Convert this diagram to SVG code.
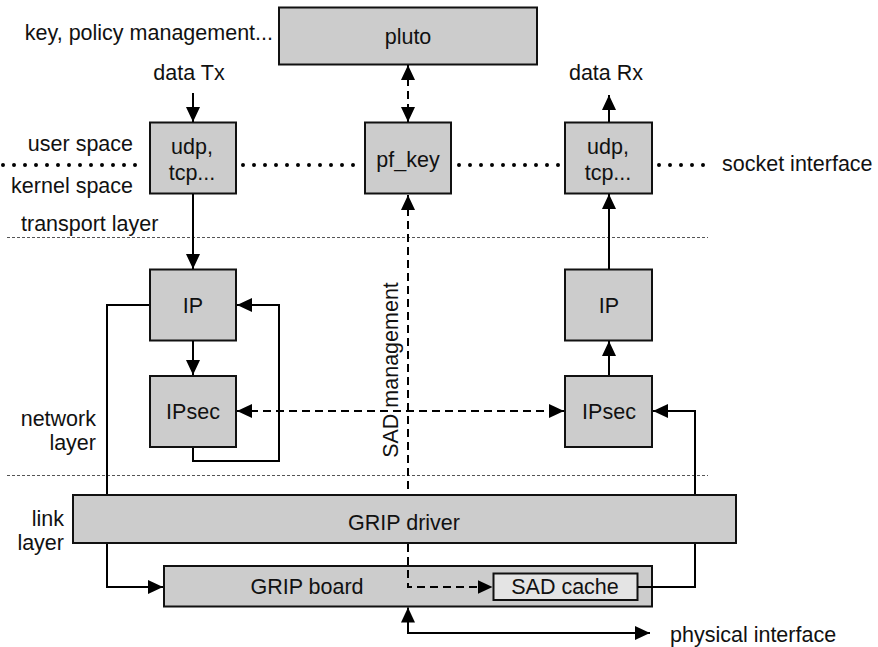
<svg xmlns="http://www.w3.org/2000/svg" width="878" height="647" viewBox="0 0 878 647">
<defs>
<marker id="ah" markerUnits="userSpaceOnUse" markerWidth="16" markerHeight="14" refX="15" refY="7" orient="auto">
<path d="M0,0 L15,7 L0,14 Z" fill="#000"/>
</marker>
<marker id="ahs" markerUnits="userSpaceOnUse" markerWidth="16" markerHeight="14" refX="0" refY="7" orient="auto">
<path d="M15,0 L0,7 L15,14 Z" fill="#000"/>
</marker>
<style>
.box{fill:#cccccc;stroke:#111;stroke-width:2}
.lbox{fill:#e4e4e4;stroke:#111;stroke-width:2}
text{font-family:"Liberation Sans",Arial,sans-serif;font-size:21.5px;fill:#111}
.c{text-anchor:middle}
.r{text-anchor:end}
.ln{fill:none;stroke:#000;stroke-width:2}
.dash{fill:none;stroke:#000;stroke-width:2;stroke-dasharray:8 5}
.dot{fill:none;stroke:#000;stroke-width:4;stroke-linecap:round;stroke-dasharray:0 11}
.sep{fill:none;stroke:#555;stroke-width:1;stroke-dasharray:3 2}
</style>
</defs>
<rect width="878" height="647" fill="#fff"/>

<g id="labels">
<text class="r" x="273" y="40">key, policy management...</text>
<text class="c" x="189" y="80">data Tx</text>
<text class="c" x="606" y="80">data Rx</text>
<text class="r" x="133" y="151">user space</text>
<text class="r" x="133" y="193">kernel space</text>
<text x="21" y="231">transport layer</text>
<text x="722" y="171">socket interface</text>
<text class="r" x="96" y="426">network</text>
<text class="r" x="96" y="450">layer</text>
<text class="r" x="64" y="526">link</text>
<text class="r" x="64" y="550">layer</text>
<text x="670" y="642">physical interface</text>
<text class="c" transform="rotate(-90 398 370)" x="398" y="370">SAD management</text>
</g>

<g id="separators">
<path class="dot" d="M3,165 H143 M243,165 H358 M459,165 H561 M659,165 H712"/>
<path class="sep" d="M7,237.5 H708 M7,475.5 H708"/>
</g>

<g id="pluto"><rect class="box" x="279" y="7.5" width="258" height="57"/><text class="c" x="408" y="44">pluto</text></g>
<g id="udp_tx"><rect class="box" x="150" y="122.5" width="86" height="71"/><text class="c" x="192" y="154">udp,</text><text class="c" x="192" y="180">tcp...</text></g>
<g id="pf_key"><rect class="box" x="365" y="122.5" width="86" height="71"/><text class="c" x="408" y="167">pf_key</text></g>
<g id="udp_rx"><rect class="box" x="565" y="122.5" width="87" height="71"/><text class="c" x="608" y="154">udp,</text><text class="c" x="608" y="180">tcp...</text></g>
<g id="ip_tx"><rect class="box" x="150" y="269.5" width="86" height="71"/><text class="c" x="193" y="313">IP</text></g>
<g id="ip_rx"><rect class="box" x="565" y="269.5" width="87" height="71"/><text class="c" x="609" y="313">IP</text></g>
<g id="ipsec_tx"><rect class="box" x="150" y="376" width="86" height="71"/><text class="c" x="193" y="419">IPsec</text></g>
<g id="ipsec_rx"><rect class="box" x="565" y="376" width="87" height="71"/><text class="c" x="609" y="419">IPsec</text></g>
<g id="grip_driver"><rect class="box" x="73" y="495" width="663" height="48"/><text class="c" x="404" y="530">GRIP driver</text></g>
<g id="grip_board"><rect class="box" x="164" y="566" width="488" height="40.5"/><text class="c" x="307" y="594">GRIP board</text></g>
<g id="sad_cache"><rect class="lbox" x="493.5" y="573.5" width="144" height="26.5"/><text class="c" x="565" y="594">SAD cache</text></g>

<g id="connectors">
<path class="ln" d="M193,93 V122" marker-end="url(#ah)"/>
<path class="ln" d="M609,122 V95" marker-end="url(#ah)"/>
<path class="dash" d="M408,65 V122" marker-start="url(#ahs)" marker-end="url(#ah)"/>
<path class="ln" d="M193,194 V269" marker-end="url(#ah)"/>
<path class="ln" d="M193,341 V375" marker-end="url(#ah)"/>
<path class="ln" d="M609,269 V194" marker-end="url(#ah)"/>
<path class="ln" d="M609,375 V341" marker-end="url(#ah)"/>
<path class="ln" d="M193,448 V461 H279 V305 H237" marker-end="url(#ah)"/>
<path class="ln" d="M149,305 H107 V494"/>
<path class="ln" d="M107,544 V587 H163" marker-end="url(#ah)"/>
<path class="ln" d="M695,494 V411 H653" marker-end="url(#ah)"/>
<path class="ln" d="M638,587 H695 V544"/>
<path class="dash" d="M237,411 H564" marker-start="url(#ahs)" marker-end="url(#ah)"/>
<path class="dash" d="M408,195 V494" marker-start="url(#ahs)"/>
<path class="dash" d="M408,544 V587 H492.5" marker-end="url(#ah)"/>
<path class="ln" d="M650,633 H408 V607.5" marker-start="url(#ahs)" marker-end="url(#ah)"/>
</g>
</svg>
